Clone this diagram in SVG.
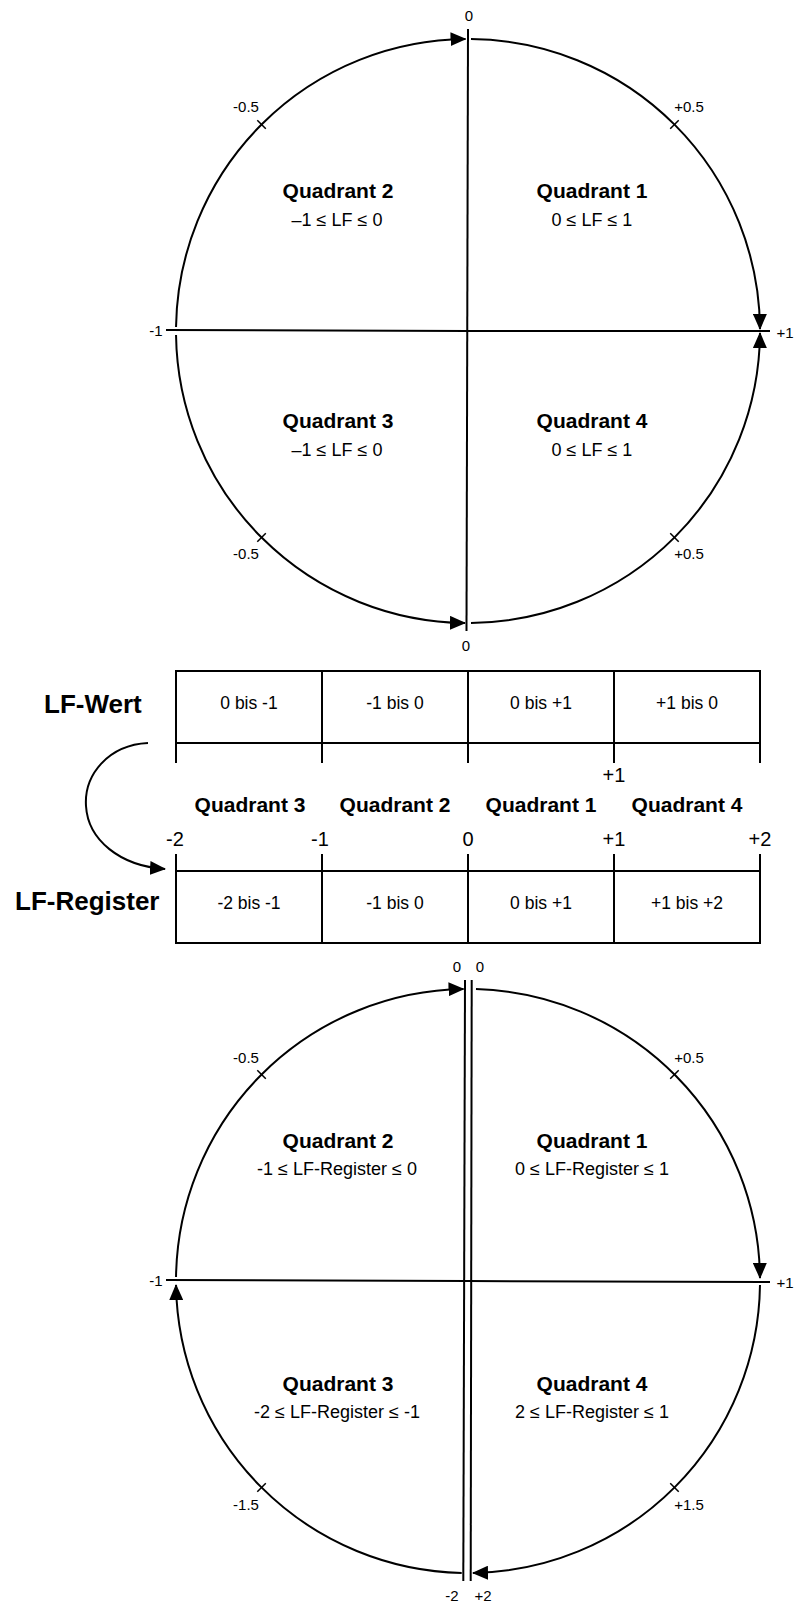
<svg xmlns="http://www.w3.org/2000/svg" width="795" height="1606" viewBox="0 0 795 1606">
<style>
  .ln{fill:none;stroke:#000;stroke-width:2}
  .arr{fill:none;stroke:#000;stroke-width:2;marker-end:url(#ah)}
  .tk{stroke:#000;stroke-width:1.5}
  .t{font-family:"Liberation Sans",Arial,sans-serif;fill:#000;text-anchor:middle}
  .s{font-size:15px}
  .q{font-size:21px;font-weight:bold}
  .r{font-size:18px}
  .c{font-size:17.5px}
  .n{font-size:20px}
  .big{font-size:26px;font-weight:bold;text-anchor:start}
</style>
<defs>
  <marker id="ah" markerUnits="userSpaceOnUse" markerWidth="16" markerHeight="14" viewBox="0 0 16 14" refX="15" refY="7" orient="auto">
    <path d="M0,0 L16,7 L0,14 z" fill="#000"/>
  </marker>
</defs>

<!-- Top circle -->
<g id="circle-top">
  <g id="top-connectors">
    <path class="ln" d="M166,330 L468,331 L770,331"/>
    <path class="ln" d="M468,29 L466.5,631"/>
    <path class="arr" d="M176.03,327 A292,292 0 0 1 465.5,39.01"/>
    <path class="arr" d="M471,39.02 A292,292 0 0 1 759.99,329"/>
    <path class="arr" d="M471,622.98 A292,292 0 0 0 759.99,333"/>
    <path class="arr" d="M176.03,335 A292,292 0 0 0 465,622.99"/>
    <line class="tk" x1="257.3" y1="120.3" x2="265.8" y2="128.8"/>
    <line class="tk" x1="678.7" y1="120.3" x2="670.2" y2="128.8"/>
    <line class="tk" x1="257.3" y1="541.7" x2="265.8" y2="533.2"/>
    <line class="tk" x1="678.7" y1="541.7" x2="670.2" y2="533.2"/>
  </g>
  <text class="t s" x="469" y="21">0</text>
  <text class="t s" x="466" y="651">0</text>
  <text class="t s" x="246" y="112">-0.5</text>
  <text class="t s" x="689" y="112">+0.5</text>
  <text class="t s" x="246" y="559">-0.5</text>
  <text class="t s" x="689" y="559">+0.5</text>
  <text class="t s" x="156" y="336">-1</text>
  <text class="t s" x="785" y="338">+1</text>
  <g id="top-q2"><text class="t q" x="338" y="198">Quadrant 2</text><text class="t r" x="337" y="226">–1 ≤ LF ≤ 0</text></g>
  <g id="top-q1"><text class="t q" x="592" y="198">Quadrant 1</text><text class="t r" x="592" y="226">0 ≤ LF ≤ 1</text></g>
  <g id="top-q3"><text class="t q" x="338" y="428">Quadrant 3</text><text class="t r" x="337" y="456">–1 ≤ LF ≤ 0</text></g>
  <g id="top-q4"><text class="t q" x="592" y="428">Quadrant 4</text><text class="t r" x="592" y="456">0 ≤ LF ≤ 1</text></g>
</g>

<!-- Table -->
<g id="table">
  <g id="row-wert">
    <rect class="ln" x="176" y="671" width="584" height="72"/>
    <path class="ln" d="M322,671 V763 M468,671 V763 M614,671 V763 M176,743 V763 M760,743 V763"/>
    <text class="t big" x="44" y="713">LF-Wert</text>
    <text class="t c" x="249" y="709">0 bis -1</text>
    <text class="t c" x="395" y="709">-1 bis 0</text>
    <text class="t c" x="541" y="709">0 bis +1</text>
    <text class="t c" x="687" y="709">+1 bis 0</text>
    <text class="t n" x="614" y="782">+1</text>
  </g>
  <g id="quad-labels">
    <text class="t q" x="250" y="812">Quadrant 3</text>
    <text class="t q" x="395" y="812">Quadrant 2</text>
    <text class="t q" x="541" y="812">Quadrant 1</text>
    <text class="t q" x="687" y="812">Quadrant 4</text>
    <text class="t n" x="175" y="846">-2</text>
    <text class="t n" x="320" y="846">-1</text>
    <text class="t n" x="468" y="846">0</text>
    <text class="t n" x="614" y="846">+1</text>
    <text class="t n" x="760" y="846">+2</text>
  </g>
  <g id="row-register">
    <rect class="ln" x="176" y="871" width="584" height="72"/>
    <path class="ln" d="M176,854 V871 M322,854 V943 M468,854 V943 M614,854 V943 M760,854 V871"/>
    <text class="t big" x="15" y="910">LF-Register</text>
    <text class="t c" x="249" y="909">-2 bis -1</text>
    <text class="t c" x="395" y="909">-1 bis 0</text>
    <text class="t c" x="541" y="909">0 bis +1</text>
    <text class="t c" x="687" y="909">+1 bis +2</text>
  </g>
  <g id="table-connector">
    <path class="arr" d="M148,743 C108,745 84,775 86,806 C88,840 120,866 165,869"/>
  </g>
</g>

<!-- Bottom circle -->
<g id="circle-bottom">
  <g id="bottom-connectors">
    <path class="ln" d="M166,1280 L468,1281 L770,1282"/>
    <path class="ln" d="M465,980 L463.3,1581"/>
    <path class="ln" d="M471.7,980 L470.7,1581"/>
    <path class="arr" d="M176.03,1277 A292,292 0 0 1 463.5,989.03"/>
    <path class="arr" d="M476,989.11 A292,292 0 0 1 759.99,1278"/>
    <path class="arr" d="M759.99,1285 A292,292 0 0 1 473,1572.96"/>
    <path class="arr" d="M461.7,1572.93 A292,292 0 0 1 176.03,1285"/>
    <line class="tk" x1="257.3" y1="1070.3" x2="265.8" y2="1078.8"/>
    <line class="tk" x1="678.7" y1="1070.3" x2="670.2" y2="1078.8"/>
    <line class="tk" x1="257.3" y1="1491.7" x2="265.8" y2="1483.2"/>
    <line class="tk" x1="678.7" y1="1491.7" x2="670.2" y2="1483.2"/>
  </g>
  <text class="t s" x="457" y="972">0</text>
  <text class="t s" x="480" y="972">0</text>
  <text class="t s" x="452" y="1601">-2</text>
  <text class="t s" x="483" y="1601">+2</text>
  <text class="t s" x="246" y="1063">-0.5</text>
  <text class="t s" x="689" y="1063">+0.5</text>
  <text class="t s" x="246" y="1510">-1.5</text>
  <text class="t s" x="689" y="1510">+1.5</text>
  <text class="t s" x="156" y="1286">-1</text>
  <text class="t s" x="785" y="1288">+1</text>
  <g id="bot-q2"><text class="t q" x="338" y="1148">Quadrant 2</text><text class="t r" x="337" y="1175">-1 ≤ LF-Register ≤ 0</text></g>
  <g id="bot-q1"><text class="t q" x="592" y="1148">Quadrant 1</text><text class="t r" x="592" y="1175">0 ≤ LF-Register ≤ 1</text></g>
  <g id="bot-q3"><text class="t q" x="338" y="1391">Quadrant 3</text><text class="t r" x="337" y="1418">-2 ≤ LF-Register ≤ -1</text></g>
  <g id="bot-q4"><text class="t q" x="592" y="1391">Quadrant 4</text><text class="t r" x="592" y="1418">2 ≤ LF-Register ≤ 1</text></g>
</g>
</svg>
